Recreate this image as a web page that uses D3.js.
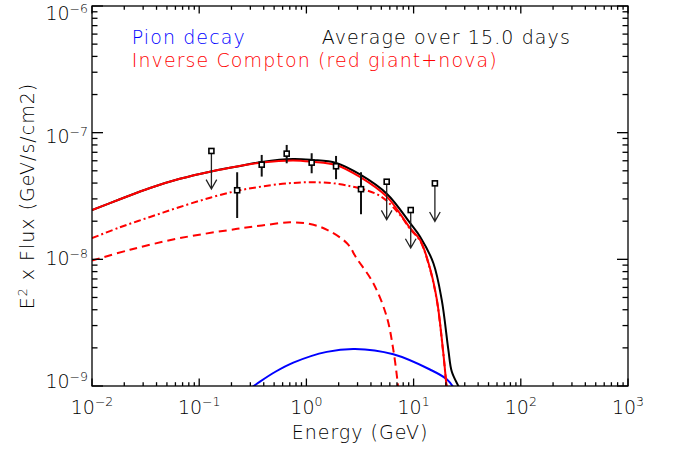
<!DOCTYPE html>
<html><head><meta charset="utf-8">
<script src="https://cdn.jsdelivr.net/npm/d3@7"></script>
<style>
body{margin:0;background:#fff}
svg{display:block}
text{font-family:"DejaVu Sans",sans-serif;font-weight:200}
</style>
</head><body>
<svg id="c" width="675" height="450"></svg>
<script>
// ---- data ----
const xDomain = [1e-2, 1e3];
const yDomain = [1e-9, 1e-6];
const xMajor = [1e-2, 1e-1, 1, 10, 100, 1000];
const xMajorExp = ["\u22122", "\u22121", "0", "1", "2", "3"];
const yMajor = [1e-6, 1e-7, 1e-8, 1e-9];
const yMajorExp = ["\u22126", "\u22127", "\u22128", "\u22129"];

// total model (black)
const totalE = [0.01, 0.0182, 0.0348, 0.066, 0.129, 0.226, 0.385, 0.75, 1.13, 1.89, 3.16, 5.65, 9.25, 11.5, 15.3, 18.3, 21.1, 22.7, 26.1, 27.7];
const totalF = [2.45e-8, 2.98e-8, 3.66e-8, 4.32e-8, 4.94e-8, 5.41e-8, 5.88e-8, 6.20e-8, 6.09e-8, 5.77e-8, 4.68e-8, 3.28e-8, 1.94e-8, 1.51e-8, 9.31e-9, 4.78e-9, 1.93e-9, 1.30e-9, 1.0e-9, 8.97e-10];
// inverse Compton total (red solid)
const icE = [0.01, 0.0182, 0.0348, 0.066, 0.129, 0.226, 0.385, 0.75, 1.13, 1.89, 3.16, 5.65, 9.25, 11.5, 14.2, 16.5, 18.8, 20.3, 20.8];
const icF = [2.45e-8, 2.98e-8, 3.66e-8, 4.32e-8, 4.94e-8, 5.41e-8, 5.82e-8, 6.04e-8, 5.90e-8, 5.56e-8, 4.47e-8, 3.11e-8, 1.77e-8, 1.42e-8, 8.55e-9, 4.78e-9, 1.93e-9, 1.0e-9, 8.5e-10];
// inverse Compton, nova component (red dash-dot)
const novaE = [0.01, 0.0182, 0.0348, 0.066, 0.129, 0.226, 0.385, 0.75, 1.34, 2.39, 4.86, 7.47, 9.25, 11.5, 14.2, 16.5, 18.8, 20.3, 20.8];
const novaF = [1.47e-8, 1.79e-8, 2.16e-8, 2.59e-8, 3.08e-8, 3.47e-8, 3.76e-8, 4.01e-8, 4.05e-8, 3.83e-8, 3.17e-8, 2.24e-8, 1.74e-8, 1.40e-8, 8.4e-9, 4.7e-9, 1.9e-9, 1.0e-9, 8.4e-10];
// inverse Compton, red giant component (red dashed)
const giantE = [0.01, 0.0226, 0.066, 0.226, 0.385, 0.703, 1.08, 1.56, 2.39, 2.94, 4.21, 5.61, 6.47, 7.11, 7.23];
const giantF = [9.77e-9, 1.19e-8, 1.47e-8, 1.74e-8, 1.85e-8, 1.96e-8, 1.90e-8, 1.71e-8, 1.34e-8, 1.02e-8, 6.48e-9, 3.53e-9, 1.93e-9, 1.05e-9, 8.97e-10];
// pion decay (blue)
const pionE = [0.311, 0.369, 0.509, 0.755, 1.55, 2.84, 6.47, 14.2, 20.4, 24.3];
const pionF = [9.76e-10, 1.083e-9, 1.29e-9, 1.53e-9, 1.86e-9, 1.96e-9, 1.78e-9, 1.35e-9, 1.13e-9, 9.35e-10];

// detections with error bars
const detE  = [0.226, 0.383, 0.655, 1.12, 1.89, 3.23];
const detF  = [3.51e-8, 5.59e-8, 6.83e-8, 5.80e-8, 5.43e-8, 3.58e-8];
const detLo = [2.12e-8, 4.50e-8, 5.73e-8, 4.78e-8, 4.29e-8, 2.27e-8];
const detHi = [4.87e-8, 6.67e-8, 8.00e-8, 6.88e-8, 6.55e-8, 4.87e-8];
// upper limits
const ulE = [0.130, 5.61, 9.4, 15.8];
const ulF = [7.17e-8, 4.10e-8, 2.45e-8, 3.98e-8];

const legendTexts = ["Pion decay", "Average over 15.0 days", "Inverse Compton (red giant+nova)"];

// ---- drawing ----
const L = 92, R = 628, T = 6, B = 386;
const svg = d3.select("#c");
const x = d3.scaleLog().domain(xDomain).range([L, R]);
const y = d3.scaleLog().domain(yDomain).range([B, T]);

svg.append("defs").append("clipPath").attr("id", "clip")
  .append("rect").attr("x", L).attr("y", T).attr("width", R - L).attr("height", B - T);

const plot = svg.append("g").attr("clip-path", "url(#clip)");
const line = d3.line().x(d => x(d[0])).y(d => y(d[1])).curve(d3.curveCatmullRom.alpha(0.5));
const zip = (a, b) => a.map((v, i) => [v, b[i]]);

function curve(E, F, color, dash) {
  plot.append("path").datum(zip(E, F)).attr("d", line)
    .attr("fill", "none").attr("stroke", color).attr("stroke-width", 2)
    .attr("stroke-dasharray", dash || null);
}
curve(pionE, pionF, "#0000ff");
curve(giantE, giantF, "#ff0000", "8,5");
curve(novaE, novaF, "#ff0000", "7,3,2,3");
curve(totalE, totalF, "#000000");
curve(icE, icF, "#ff0000");

// data points
const det = detE.map((e, i) => ({e, f: detF[i], lo: detLo[i], hi: detHi[i]}));
const ul = ulE.map((e, i) => ({e, f: ulF[i]}));
const pts = svg.append("g");
pts.selectAll("line.err").data(det).join("line").attr("class", "err")
  .attr("x1", d => x(d.e)).attr("x2", d => x(d.e))
  .attr("y1", d => y(d.hi)).attr("y2", d => y(d.lo))
  .attr("stroke", "#111").attr("stroke-width", 2);
const arrowLen = 38;
pts.selectAll("path.ul").data(ul).join("path").attr("class", "ul")
  .attr("d", d => {
    const px = x(d.e), py = y(d.f), ty = py + arrowLen;
    return `M${px},${py}L${px},${ty}M${px - 5.3},${ty - 9.3}L${px},${ty}L${px + 5.3},${ty - 9.3}`;
  })
  .attr("fill", "none").attr("stroke", "#222").attr("stroke-width", 1.3);
pts.selectAll("rect").data(det.concat(ul)).join("rect")
  .attr("x", d => x(d.e) - 2.5).attr("y", d => y(d.f) - 2.5)
  .attr("width", 5).attr("height", 5)
  .attr("fill", "#fff").attr("stroke", "#000").attr("stroke-width", 1.6);

// frame & ticks
const ax = svg.append("g").attr("stroke", "#000").attr("stroke-width", 1.3);
ax.append("rect").attr("x", L).attr("y", T).attr("width", R - L).attr("height", B - T).attr("fill", "none");
const isMajor = v => Math.abs(Math.log10(v) - Math.round(Math.log10(v))) < 1e-6;
x.ticks().forEach(v => {
  const len = isMajor(v) ? 7.5 : 3.8, px = x(v);
  ax.append("line").attr("x1", px).attr("x2", px).attr("y1", B).attr("y2", B - len);
  ax.append("line").attr("x1", px).attr("x2", px).attr("y1", T).attr("y2", T + len);
});
y.ticks().forEach(v => {
  const len = isMajor(v) ? 11 : 5.5, py = y(v);
  ax.append("line").attr("x1", L).attr("x2", L + len).attr("y1", py).attr("y2", py);
  ax.append("line").attr("x1", R).attr("x2", R - len).attr("y1", py).attr("y2", py);
});

// tick labels
const fs = 19, sfs = 12.5;
xMajor.forEach((v, i) => {
  const t = svg.append("text").attr("x", x(v)).attr("y", 413.5)
    .attr("text-anchor", "middle").attr("font-size", fs).attr("fill", "#000");
  t.append("tspan").text("10");
  t.append("tspan").attr("dy", -7.5).attr("font-size", sfs).text(xMajorExp[i]);
});
yMajor.forEach((v, i) => {
  const py = y(v);
  const base = py + 14 - 12 * (py - T) / (B - T);
  const t = svg.append("text").attr("x", 88).attr("y", base)
    .attr("text-anchor", "end").attr("font-size", fs).attr("fill", "#000");
  t.append("tspan").text("10");
  t.append("tspan").attr("dy", -7).attr("font-size", sfs).text(yMajorExp[i]);
});

// axis titles
svg.append("text").attr("x", (L + R) / 2).attr("y", 439)
  .attr("text-anchor", "middle").attr("font-size", fs).attr("letter-spacing", 1).text("Energy (GeV)");
const yt = svg.append("text").attr("transform", `translate(34,${(T + B) / 2}) rotate(-90)`)
  .attr("text-anchor", "middle").attr("font-size", fs).attr("letter-spacing", 1);
yt.append("tspan").text("E");
yt.append("tspan").attr("dy", -7).attr("font-size", sfs).text("2");
yt.append("tspan").attr("dy", 7).text("\u00a0x\u00a0Flux\u00a0(GeV/s/cm2)");

// legend
const lg = svg.append("g").attr("font-size", fs).attr("letter-spacing", 1.1);
lg.append("text").attr("x", 131.7).attr("y", 44).attr("fill", "#0000ff").text(legendTexts[0]);
lg.append("text").attr("x", 321.7).attr("y", 44).attr("fill", "#000").text(legendTexts[1]);
lg.append("text").attr("x", 131.7).attr("y", 67).attr("fill", "#ff0000").text(legendTexts[2]);
</script>
</body></html>
